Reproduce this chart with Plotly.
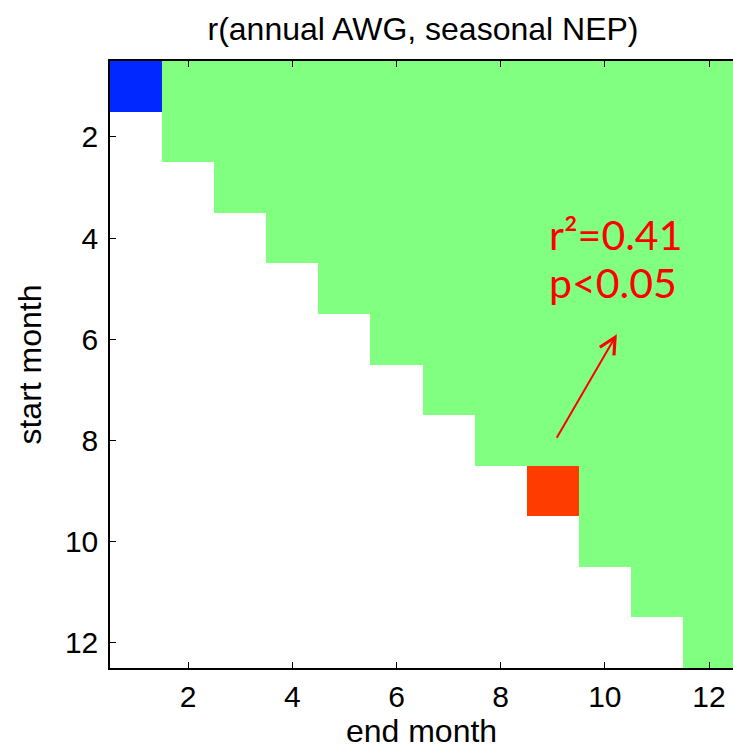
import plotly.graph_objects as go

# Data
start_months = list(range(1, 13))
end_months = list(range(1, 13))
# correlation category: -1 = significant negative, 0 = not significant, 1 = significant positive, None = invalid (end < start)
N = None
corr_class = [
    [-1, 0, 0, 0, 0, 0, 0, 0, 0, 0, 0, 0],
    [N, 0, 0, 0, 0, 0, 0, 0, 0, 0, 0, 0],
    [N, N, 0, 0, 0, 0, 0, 0, 0, 0, 0, 0],
    [N, N, N, 0, 0, 0, 0, 0, 0, 0, 0, 0],
    [N, N, N, N, 0, 0, 0, 0, 0, 0, 0, 0],
    [N, N, N, N, N, 0, 0, 0, 0, 0, 0, 0],
    [N, N, N, N, N, N, 0, 0, 0, 0, 0, 0],
    [N, N, N, N, N, N, N, 0, 0, 0, 0, 0],
    [N, N, N, N, N, N, N, N, 1, 0, 0, 0],
    [N, N, N, N, N, N, N, N, N, 0, 0, 0],
    [N, N, N, N, N, N, N, N, N, N, 0, 0],
    [N, N, N, N, N, N, N, N, N, N, N, 0],
]
tick_vals = [2, 4, 6, 8, 10, 12]
annot_lines = ["r²=0.41", "p<0.05"]

BLUE = "#0028ff"
GREEN = "#80ff80"
RED = "#ff3c00"
colorscale = [
    [0.0, BLUE], [1 / 3, BLUE],
    [1 / 3, GREEN], [2 / 3, GREEN],
    [2 / 3, RED], [1.0, RED],
]

FONT = "Liberation Sans, Arial, sans-serif"

fig = go.Figure(
    go.Heatmap(
        x=end_months,
        y=start_months,
        z=corr_class,
        zmin=-1,
        zmax=1,
        colorscale=colorscale,
        showscale=False,
        hoverongaps=False,
    )
)

axis_common = dict(
    showgrid=False,
    zeroline=False,
    showline=True,
    linecolor="black",
    linewidth=1.5,
    ticks="inside",
    ticklen=6,
    tickcolor="black",
    tickwidth=1.2,
    tickvals=tick_vals,
    tickfont=dict(family=FONT, size=30, color="black"),
)

fig.update_xaxes(
    **axis_common,
    range=[0.5, 12.46],
    mirror="ticks",
    ticklabelstandoff=1,
    title=dict(text="end month", standoff=6,
               font=dict(family=FONT, size=32, color="black")),
)
fig.update_yaxes(
    **axis_common,
    range=[12.5, 0.5],
    ticklabelstandoff=4,
    title=dict(text="start month", standoff=14,
               font=dict(family=FONT, size=32, color="black")),
)

ann_font = dict(family="Lato, Open Sans, sans-serif", size=41, color="#ff0000")
fig.add_annotation(x=8.88, y=3.93, xref="x", yref="y", text=annot_lines[0],
                   showarrow=False, xanchor="left", yanchor="middle", font=ann_font)
fig.add_annotation(x=8.88, y=4.88, xref="x", yref="y", text=annot_lines[1],
                   showarrow=False, xanchor="left", yanchor="middle", font=ann_font)
fig.add_annotation(x=10.23, y=5.9, ax=9.06, ay=7.98, xref="x", yref="y",
                   axref="x", ayref="y", text="", showarrow=True,
                   arrowhead=5, arrowsize=1.6, arrowwidth=2, arrowcolor="#ff0000")

fig.update_layout(
    width=733,
    height=753,
    margin=dict(l=110, r=0, t=61, b=85),
    plot_bgcolor="white",
    paper_bgcolor="white",
    title=dict(text="r(annual AWG, seasonal NEP)", x=423 / 733, xanchor="center",
               y=1 - 29 / 753, yanchor="middle",
               font=dict(family=FONT, size=32, color="black")),
)

fig.write_html("out.html")
